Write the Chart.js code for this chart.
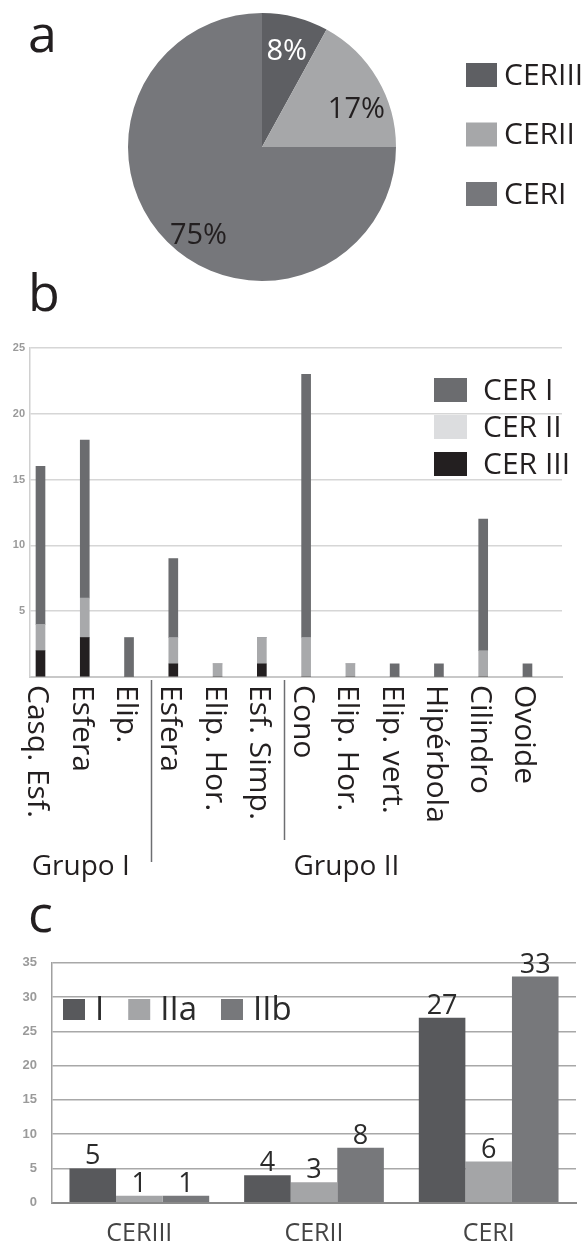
<!DOCTYPE html>
<html><head><meta charset="utf-8">
<script src="https://cdn.jsdelivr.net/npm/chart.js"></script>
<style>
html,body{margin:0;padding:0;background:#fff;}
body{width:585px;height:1248px;position:relative;overflow:hidden;font-family:"Open Sans",sans-serif;}
canvas{position:absolute;left:0;}
.panel{position:absolute;left:28px;font-family:"Open Sans",sans-serif;font-size:52px;line-height:52px;color:#231f20;z-index:2;}
</style></head><body>
<div class="panel" style="top:6px">a</div>
<div class="panel" style="top:265px">b</div>
<div class="panel" style="top:886px">c</div>
<canvas id="pie" width="585" height="290" style="top:0"></canvas>
<canvas id="bars" width="585" height="570" style="top:330px"></canvas>
<canvas id="groups" width="585" height="308" style="top:940px"></canvas>
<script>
// ---- data: panel a ----
const pieLabels = ['CERIII', 'CERII', 'CERI'];
const pieValues = [8, 17, 75];

// ---- data: panel b ----
const shapeLabels = ['Casq. Esf.', 'Esfera', 'Elip.', 'Esfera', 'Elip. Hor.', 'Esf. Simp.', 'Cono', 'Elip. Hor.', 'Elip. vert.', 'Hipérbola', 'Cilindro', 'Ovoide'];
const cerI   = [12, 12, 3, 6, 0, 0, 20, 0, 1, 1, 10, 1];
const cerII  = [2, 3, 0, 2, 1, 2, 3, 1, 0, 0, 2, 0];
const cerIII = [2, 3, 0, 1, 0, 1, 0, 0, 0, 0, 0, 0];
const groupNames = ['Grupo I', 'Grupo II'];
const groupSpans = [[0, 2], [3, 11]];
const yTicksB = [5, 10, 15, 20, 25];

// ---- data: panel c ----
const cerCategories = ['CERIII', 'CERII', 'CERI'];
const typeI   = [5, 4, 27];
const typeIIa = [1, 3, 6];
const typeIIb = [1, 8, 33];

const FONT = '"Open Sans", sans-serif';
const INK = '#231f20';

// ---------- Panel a: pie ----------
const pieColors = ['#5e5f63', '#a6a7a9', '#76777b'];
const pieLabelStyle = [
  {color: '#ffffff', shift: 0, frac: 0.74},
  {color: INK, shift: 8.6, frac: 0.76},
  {color: INK, shift: -9.2, frac: 0.81}
];
const piePlugin = {
  id: 'pieExtras',
  afterDraw(chart) {
    const ctx = chart.ctx;
    const meta = chart.getDatasetMeta(0);
    ctx.save();
    ctx.font = '29px ' + FONT;
    ctx.textAlign = 'center';
    ctx.textBaseline = 'middle';
    meta.data.forEach((arc, i) => {
      const st = pieLabelStyle[i];
      const mid = (arc.startAngle + arc.endAngle) / 2 + st.shift * Math.PI / 180;
      const r = arc.outerRadius * st.frac;
      ctx.fillStyle = st.color;
      ctx.fillText(chart.data.datasets[0].data[i] + '%', arc.x + Math.cos(mid) * r, arc.y + Math.sin(mid) * r + 1);
    });
    // legend
    ctx.font = '30px ' + FONT;
    ctx.textAlign = 'left';
    chart.data.labels.forEach((lab, i) => {
      const cy = 75 + i * 59.5;
      ctx.fillStyle = chart.data.datasets[0].backgroundColor[i];
      ctx.fillRect(466, cy - 12, 31, 24);
      ctx.fillStyle = INK;
      ctx.fillText(lab, 504, cy + 1);
    });
    ctx.restore();
  }
};
new Chart(document.getElementById('pie'), {
  type: 'pie',
  data: {labels: pieLabels, datasets: [{data: pieValues, backgroundColor: pieColors, borderWidth: 0}]},
  options: {
    responsive: false, animation: false, devicePixelRatio: 1,
    layout: {padding: {left: 128, top: 13, right: 189, bottom: 9}},
    plugins: {legend: {display: false}, tooltip: {enabled: false}}
  },
  plugins: [piePlugin]
});

// ---------- Panel b: stacked bars ----------
const toXY = arr => arr.map((v, i) => ({x: i, y: v}));
const bPlugin = {
  id: 'bExtras',
  afterDraw(chart) {
    const {ctx, scales: {x, y}} = chart;
    const axisY = y.getPixelForValue(0);
    ctx.save();
    // rotated category labels
    ctx.fillStyle = INK;
    ctx.font = '30px ' + FONT;
    ctx.textAlign = 'left';
    ctx.textBaseline = 'alphabetic';
    shapeLabels.forEach((lab, i) => {
      const px = x.getPixelForValue(i);
      ctx.save();
      ctx.translate(px, axisY + 8);
      ctx.rotate(Math.PI / 2);
      ctx.fillText(lab, 0, 12);
      ctx.restore();
    });
    // group separators
    ctx.strokeStyle = '#6d6e71';
    ctx.lineWidth = 1.5;
    [[2.5, 185], [5.5, 163]].forEach(([v, len]) => {
      const px = Math.round(x.getPixelForValue(v)) + 0.5;
      ctx.beginPath();
      ctx.moveTo(px, axisY + 3);
      ctx.lineTo(px, axisY + len);
      ctx.stroke();
    });
    // group names
    ctx.font = '28px ' + FONT;
    ctx.textAlign = 'center';
    groupNames.forEach((g, i) => {
      const [a, b] = groupSpans[i];
      const px = x.getPixelForValue((a + b) / 2) - 4;
      ctx.fillText(g, px, axisY + 198);
    });
    // legend (top to bottom: CER I, CER II, CER III)
    ctx.font = '30px ' + FONT;
    ctx.textAlign = 'left';
    ctx.textBaseline = 'middle';
    const ds = chart.data.datasets.slice().reverse();
    ds.forEach((d, i) => {
      const top = 48 + i * 37;
      ctx.fillStyle = d.legendColor;
      ctx.fillRect(434, top, 33, 24);
      ctx.fillStyle = INK;
      ctx.fillText(d.label, 483, top + 13);
    });
    ctx.restore();
  }
};
new Chart(document.getElementById('bars'), {
  type: 'bar',
  data: {datasets: [
    {label: 'CER III', data: toXY(cerIII), backgroundColor: '#231f20', legendColor: '#231f20'},
    {label: 'CER II', data: toXY(cerII), backgroundColor: '#a8a9ab', legendColor: '#dcdddf'},
    {label: 'CER I', data: toXY(cerI), backgroundColor: '#6b6c6f', legendColor: '#6b6c6f'}
  ]},
  options: {
    responsive: false, animation: false, devicePixelRatio: 1,
    layout: {padding: {top: 18, right: 23, left: 0, bottom: 0}},
    datasets: {bar: {barThickness: 9}},
    plugins: {legend: {display: false}, tooltip: {enabled: false}},
    scales: {
      x: {
        type: 'linear', stacked: true, min: -0.237, max: 11.78, offset: false,
        grid: {display: false, drawTicks: false},
        border: {display: true, color: '#c8c8c8', width: 2},
        ticks: {display: false},
        afterFit: s => { s.height = 223; }
      },
      y: {
        stacked: true, min: 0, max: 25,
        afterBuildTicks: s => { s.ticks = [0].concat(yTicksB).map(v => ({value: v})); },
        ticks: {padding: 5, color: '#9a9a9a', font: {family: 'Liberation Sans', size: 11, weight: 'bold'},
                callback: v => (v === 0 ? '' : v)},
        grid: {color: '#d6d6d6', lineWidth: 1.5, drawTicks: false},
        border: {display: true, color: '#d0d0d0', width: 1.5},
        afterFit: s => { s.width = 30; }
      }
    }
  },
  plugins: [bPlugin]
});

// ---------- Panel c: grouped bars ----------
const cPlugin = {
  id: 'cExtras',
  afterDatasetsDraw(chart) {
    const ctx = chart.ctx;
    ctx.save();
    ctx.font = '27px ' + FONT;
    ctx.fillStyle = '#2b2b2b';
    ctx.textAlign = 'center';
    ctx.textBaseline = 'alphabetic';
    chart.data.datasets.forEach((d, di) => {
      chart.getDatasetMeta(di).data.forEach((bar, i) => {
        ctx.fillText(String(d.data[i]), bar.x, bar.y - 4);
      });
    });
    // legend inside plot area
    ctx.font = '33px ' + FONT;
    ctx.textAlign = 'left';
    ctx.textBaseline = 'middle';
    let lx = 63;
    const cy = 70;
    chart.data.datasets.forEach(d => {
      ctx.fillStyle = d.backgroundColor;
      ctx.fillRect(lx, cy - 11, 22, 21);
      lx += 22 + 10;
      ctx.fillStyle = '#2b2b2b';
      ctx.fillText(d.label, lx, cy + 1);
      lx += ctx.measureText(d.label).width + 24;
    });
    ctx.restore();
  }
};
new Chart(document.getElementById('groups'), {
  type: 'bar',
  data: {labels: cerCategories, datasets: [
    {label: 'I', data: typeI, backgroundColor: '#58595c'},
    {label: 'IIa', data: typeIIa, backgroundColor: '#a4a5a7'},
    {label: 'IIb', data: typeIIb, backgroundColor: '#77787b'}
  ]},
  options: {
    responsive: false, animation: false, devicePixelRatio: 1,
    layout: {padding: {top: 18, right: 9, left: 0, bottom: 0}},
    datasets: {bar: {categoryPercentage: 0.8, barPercentage: 1.0}},
    plugins: {legend: {display: false}, tooltip: {enabled: false}},
    scales: {
      x: {
        grid: {display: false, drawTicks: false},
        border: {display: true, color: '#8a8a8a', width: 2},
        ticks: {padding: 16, color: '#444444', font: {family: 'Open Sans', size: 25}},
        afterFit: s => { s.height = 45.3; }
      },
      y: {
        min: 0, max: 35,
        ticks: {stepSize: 5, padding: 15, color: '#9a9a9a', font: {family: 'Liberation Sans', size: 13, weight: 'bold'}},
        grid: {color: '#a8a8a8', lineWidth: 1.5, drawTicks: false},
        border: {display: true, color: '#a0a0a0', width: 1.5},
        afterFit: s => { s.width = 52; }
      }
    }
  },
  plugins: [cPlugin]
});
</script>
</body></html>
